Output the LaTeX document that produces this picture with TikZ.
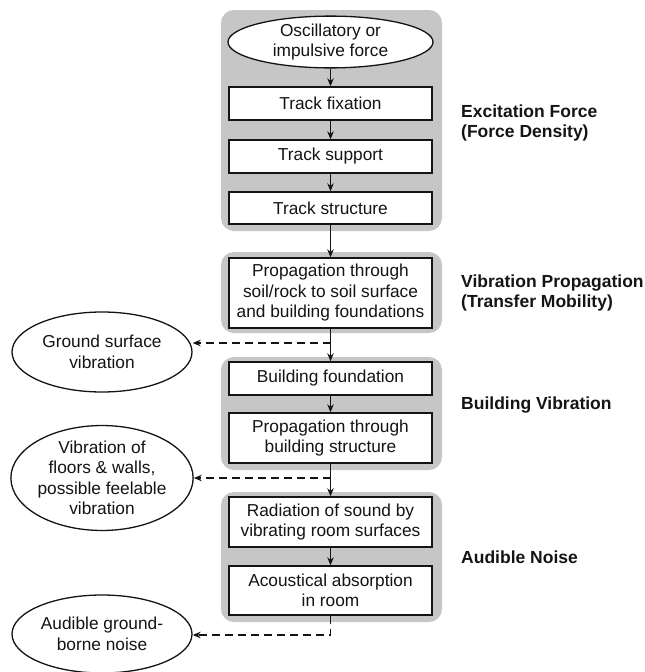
\documentclass[tikz,border=0pt]{standalone}
\usepackage{fontspec}
\setmainfont{Liberation Sans}
\usetikzlibrary{shapes.geometric,arrows.meta}
\definecolor{grp}{RGB}{198,198,198}
\definecolor{ink}{RGB}{20,20,20}
\begin{document}
\begin{tikzpicture}[x=1pt,y=-1pt,
  txt/.style={font=\fontsize{17.3}{20.5}\selectfont, text=ink, align=center},
  group/.style={fill=grp, draw=none, rounded corners=13pt},
  stepbox/.style={txt, draw=ink, line width=1.4pt, fill=white, minimum width=203pt, inner sep=0pt},
  oval/.style={txt, draw=ink, line width=1.3pt, fill=white, ellipse, inner sep=0pt},
  side/.style={font=\fontsize{17.5}{20}\selectfont\bfseries, text=ink, align=left, anchor=west, inner sep=0pt},
  arr/.style={draw=ink, line width=1.2pt, -{Stealth[length=8pt,width=6.5pt]}},
  darr/.style={draw=ink, line width=1.2pt, dash pattern=on 8pt off 5pt, -{Stealth[length=8pt,width=6.5pt]}}
]
\useasboundingbox (0,0) rectangle (645,672);
% grey groups
\fill[group] (221,10) rectangle (442,231);
\fill[group] (221,252) rectangle (442,333);
\fill[group] (221,357) rectangle (442,470);
\fill[group] (221,492) rectangle (442,622);
% central column
\node[oval, minimum width=205pt, minimum height=49pt] (E0) at (330.5,42) {Oscillatory or\\impulsive force};
\node[stepbox, minimum height=33pt] (B1) at (330.5,103.5) {Track fixation};
\node[stepbox, minimum height=33pt] (B2) at (330.5,156.5) {Track support};
\node[stepbox, minimum height=32pt] (B3) at (330.5,208) {Track structure};
\node[stepbox, minimum height=70pt] (B4) at (330.5,293) {Propagation through\\soil/rock to soil surface\\and building foundations};
\node[stepbox, minimum height=33pt] (B5) at (330.5,378.5) {Building foundation};
\node[stepbox, minimum height=50pt] (B6) at (330.5,438) {Propagation through\\building structure};
\node[stepbox, minimum height=50pt] (B7) at (330.5,522) {Radiation of sound by\\vibrating room surfaces};
\node[stepbox, minimum height=49pt] (B8) at (330.5,590.5) {Acoustical absorption\\in room};
% left ellipses
\node[oval, minimum width=180pt, minimum height=80pt] (E1) at (102,352) {Ground surface\\vibration};
\node[oval, minimum width=180pt, minimum height=91pt] (E2) at (102,478) {Vibration of\\floors \& walls,\\possible feelable\\vibration};
\node[oval, minimum width=180pt, minimum height=78pt] (E3) at (102,634) {Audible ground-\\borne noise};
% side labels
\node[side] (L1) at (461,123) {Excitation Force\\(Force Density)};
\node[side] (L2) at (461,293) {Vibration Propagation\\(Transfer Mobility)};
\node[side] (L3) at (461,405) {Building Vibration};
\node[side] (L4) at (461,557) {Audible Noise};
% branch points
\coordinate (c1) at (330.5,343);
\coordinate (c2) at (330.5,478);
\coordinate (c3) at (330.5,635);
% connectors
\draw[arr] (E0) -- (B1);
\draw[arr] (B1) -- (B2);
\draw[arr] (B2) -- (B3);
\draw[arr] (B3) -- (B4);
\draw[arr] (B4) -- (B5);
\draw[arr] (B5) -- (B6);
\draw[arr] (B6) -- (B7);
\draw[arr] (B7) -- (B8);
\draw[darr] (c1) -- (c1 -| E1.east);
\draw[darr] (c2) -- (c2 -| E2.east);
\draw[darr] (B8.south) -- (c3) -- (c3 -| E3.east);
\end{tikzpicture}
\end{document}
